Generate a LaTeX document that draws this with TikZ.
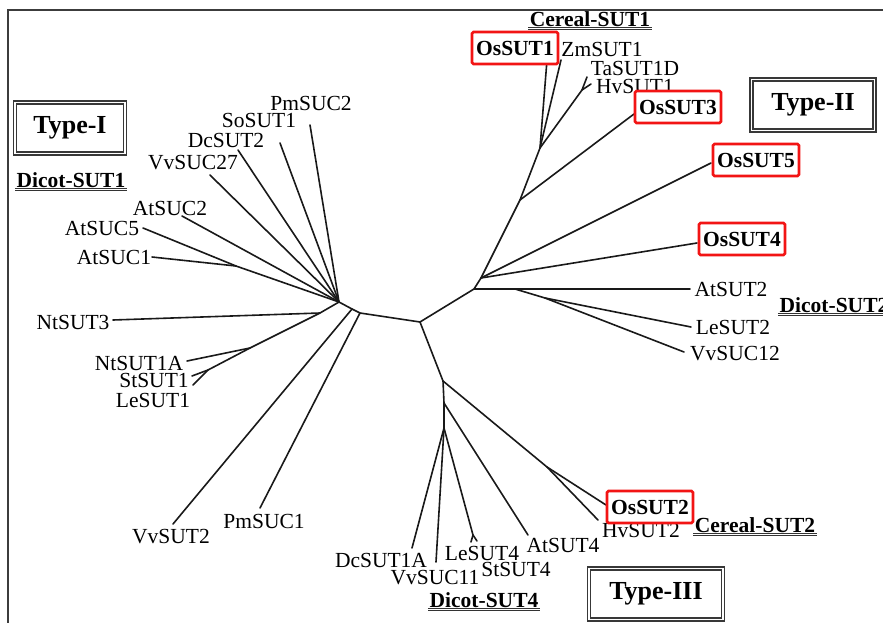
\documentclass[tikz,border=0pt]{standalone}
\usepackage{fontspec}
\setmainfont{Liberation Serif}
\usetikzlibrary{positioning}
\definecolor{osred}{HTML}{F21414}
\definecolor{frm}{HTML}{3C3C3C}
\tikzset{
  leaf/.style={inner sep=0pt, font=\fontsize{21.5}{24}\selectfont},
  osbox/.style={rectangle, rounded corners=1.5pt, draw=osred, line width=2.6pt, fill=white,
                minimum width=86pt, minimum height=32pt, inner sep=0pt,
                font=\bfseries\fontsize{21.5}{24}\selectfont},
  grp/.style={inner sep=1.5pt, font=\bfseries\fontsize{21.5}{24}\selectfont},
  uline/.style={draw=black!80, line width=1.1pt, double=white, double distance=0.7pt},
  typebox/.style={rectangle, draw=black!78, line width=1.6pt, double=white, double distance=1.6pt,
                  minimum height=51pt, inner sep=0pt, font=\bfseries\fontsize{26}{30}\selectfont},
  br/.style={draw=black!90, line width=1.6pt, line cap=round, line join=round}
}
\begin{document}
\begin{tikzpicture}[x=1pt,y=-1pt]
\useasboundingbox (0,0) rectangle (883,623);
\clip (0,0) rectangle (883,623);
\draw[frm, line width=1.2pt] (8,630) -- (8,10) -- (890,10);
% forks
\coordinate (root) at (420,322);
\coordinate (fa) at (360,313);
\coordinate (fb) at (352,309);
\coordinate (hub) at (339,302);
\coordinate (fAt) at (236,266);
\coordinate (fNt) at (320,313);
\coordinate (fNt1) at (250,348);
\coordinate (fSL) at (208,370);
\coordinate (fc) at (474,289);
\coordinate (fd) at (481,278);
\coordinate (fg) at (520,200);
\coordinate (fh) at (540,148);
\coordinate (fTH) at (582,90);
\coordinate (fe) at (515,289);
\coordinate (ff) at (545,298);
\coordinate (fi) at (443,381);
\coordinate (fOH) at (547,467);
\coordinate (fj) at (444,403);
\coordinate (fk) at (444,428);
\coordinate (fLS) at (473,535);
% tips
\coordinate (tPmSUC2) at (310,125);
\coordinate (tSoSUT1) at (280,143);
\coordinate (tDcSUT2) at (238,150);
\coordinate (tVvSUC27) at (210,175);
\coordinate (tAtSUC2) at (182,216);
\coordinate (tAtSUC5) at (143,228);
\coordinate (tAtSUC1) at (152,257);
\coordinate (tNtSUT3) at (113,320);
\coordinate (tNtSUT1A) at (187,361);
\coordinate (tStSUT1) at (192,376);
\coordinate (tLeSUT1) at (193,385);
\coordinate (tVvSUT2) at (173,524);
\coordinate (tPmSUC1) at (260,508);
\coordinate (tOsSUT1) at (547,60);
\coordinate (tZmSUT1) at (561,60);
\coordinate (tTaSUT1D) at (587,77);
\coordinate (tHvSUT1) at (591,84);
\coordinate (tOsSUT3) at (634,114);
\coordinate (tOsSUT5) at (711,163);
\coordinate (tOsSUT4) at (697,243);
\coordinate (tAtSUT2) at (690,289);
\coordinate (tLeSUT2) at (691,327);
\coordinate (tVvSUC12) at (684,352);
\coordinate (tOsSUT2) at (606,505);
\coordinate (tHvSUT2) at (598,520);
\coordinate (tAtSUT4) at (528,535);
\coordinate (tDcSUT1A) at (412,548);
\coordinate (tVvSUC11) at (436,562);
\coordinate (tLeSUT4) at (471,542);
\coordinate (tStSUT4) at (477,541);
% Type-I side
\draw[br] (root)--(fa)--(fb)--(hub);
\draw[br] (fa)--(tPmSUC1); \draw[br] (fb)--(tVvSUT2);
\draw[br] (hub)--(tPmSUC2); \draw[br] (hub)--(tSoSUT1); \draw[br] (hub)--(tDcSUT2);
\draw[br] (hub)--(tVvSUC27); \draw[br] (hub)--(tAtSUC2);
\draw[br] (hub)--(fAt)--(tAtSUC5); \draw[br] (fAt)--(tAtSUC1);
\draw[br] (hub)--(fNt)--(tNtSUT3); \draw[br] (fNt)--(fNt1)--(tNtSUT1A);
\draw[br] (fNt1)--(fSL)--(tStSUT1); \draw[br] (fSL)--(tLeSUT1);
% Type-II side
\draw[br] (root)--(fc)--(fd)--(fg)--(fh)--(tOsSUT1);
\draw[br] (fh)--(tZmSUT1); \draw[br] (fh)--(fTH)--(tTaSUT1D); \draw[br] (fTH)--(tHvSUT1);
\draw[br] (fg)--(tOsSUT3); \draw[br] (fd)--(tOsSUT5); \draw[br] (fd)--(tOsSUT4);
\draw[br] (fc)--(fe)--(tAtSUT2); \draw[br] (fe)--(ff)--(tLeSUT2); \draw[br] (ff)--(tVvSUC12);
% Type-III side
\draw[br] (root)--(fi)--(fOH)--(tOsSUT2); \draw[br] (fOH)--(tHvSUT2);
\draw[br] (fi)--(fj)--(tAtSUT4); \draw[br] (fj)--(fk)--(tDcSUT1A);
\draw[br] (fk)--(tVvSUC11); \draw[br] (fk)--(fLS)--(tLeSUT4); \draw[br] (fLS)--(tStSUT4);
% leaf labels
\node[leaf] (PmSUC2) at (311,103) {PmSUC2};
\node[leaf] (SoSUT1) at (259,120) {SoSUT1};
\node[leaf] (DcSUT2) at (226,140) {DcSUT2};
\node[leaf] (VvSUC27) at (193,163) {VvSUC27};
\node[leaf] (AtSUC2) at (170,208) {AtSUC2};
\node[leaf] (AtSUC5) at (102,228) {AtSUC5};
\node[leaf] (AtSUC1) at (114,257) {AtSUC1};
\node[leaf] (NtSUT3) at (73,322) {NtSUT3};
\node[leaf] (NtSUT1A) at (139,363) {NtSUT1A};
\node[leaf] (StSUT1) at (154,380) {StSUT1};
\node[leaf] (LeSUT1) at (153,400) {LeSUT1};
\node[leaf] (VvSUT2) at (171,537) {VvSUT2};
\node[leaf] (PmSUC1) at (264,521) {PmSUC1};
\node[leaf] (ZmSUT1) at (602,49) {ZmSUT1};
\node[leaf] (TaSUT1D) at (635,68) {TaSUT1D};
\node[leaf] (HvSUT1) at (635,86) {HvSUT1};
\node[leaf] (AtSUT2) at (731,289) {AtSUT2};
\node[leaf] (LeSUT2) at (733,327) {LeSUT2};
\node[leaf] (VvSUC12) at (735,354) {VvSUC12};
\node[leaf] (HvSUT2) at (641,530) {HvSUT2};
\node[leaf] (AtSUT4) at (563,545) {AtSUT4};
\node[leaf] (DcSUT1A) at (381,560) {DcSUT1A};
\node[leaf] (VvSUC11) at (435,578) {VvSUC11};
\node[leaf] (LeSUT4) at (482,553) {LeSUT4};
\node[leaf] (StSUT4) at (516,569) {StSUT4};
% rice genes
\node[osbox] (OsSUT1) at (515,48) {OsSUT1};
\node[osbox] (OsSUT3) at (678,107) {OsSUT3};
\node[osbox] (OsSUT5) at (756,160) {OsSUT5};
\node[osbox] (OsSUT4) at (742,239) {OsSUT4};
\node[osbox] (OsSUT2) at (650,507) {OsSUT2};
% groups
\node[grp] (cer1) at (590,19) {Cereal-SUT1};
\node[grp] (dic1) at (71,180) {Dicot-SUT1};
\node[grp] (dic2) at (834,305) {Dicot-SUT2};
\node[grp] (cer2) at (755,525) {Cereal-SUT2};
\node[grp] (dic4) at (484,600) {Dicot-SUT4};
\foreach \g in {cer1,dic1,dic2,cer2,dic4}
  \draw[uline] (\g.south west) -- (\g.south east);
\node[typebox, minimum width=110pt] (typeI) at (70,128) {Type-I};
\node[typebox, minimum width=123pt] (typeII) at (813,105) {Type-II};
\node[typebox, minimum width=134pt] (typeIII) at (656,594) {Type-III};
\end{tikzpicture}
\end{document}
